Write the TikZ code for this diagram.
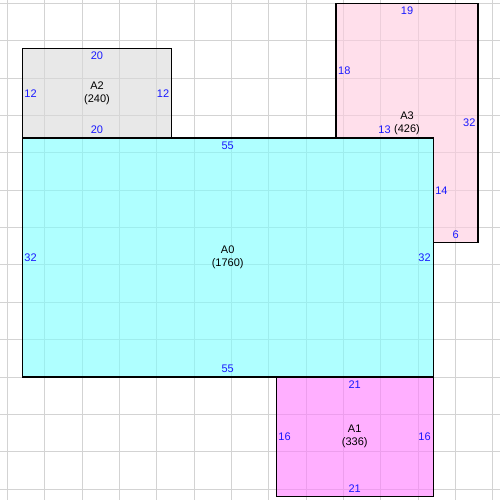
\documentclass[tikz,border=0pt]{standalone}
\usepackage{fontspec}
\setmainfont{Liberation Sans}
\definecolor{labblue}{RGB}{25,25,255}
\definecolor{gridgray}{RGB}{211,211,211}
\definecolor{cA0}{RGB}{123,255,255}
\definecolor{cA1}{RGB}{255,123,255}
\definecolor{cA2}{RGB}{217,217,217}
\definecolor{cA3}{RGB}{255,203,223}
\begin{document}
\begin{tikzpicture}[x=7.47pt,y=-7.47pt,
  gridline/.style={draw=gridgray, line width=1pt},
  area/.style={draw=black, line width=1.1pt, fill opacity=0.6, line join=miter},
  lab/.style={text=labblue, font=\fontsize{11}{12}\selectfont, inner sep=0pt},
  tl/.style={lab, anchor=north, yshift=-3.4pt},
  bl/.style={lab, anchor=south, yshift=3.8pt},
  ll/.style={lab, anchor=west, xshift=2pt},
  rl/.style={lab, anchor=east, xshift=-2.3pt},
  cl/.style={text=black, font=\fontsize{11}{13}\selectfont, align=center, inner sep=0pt}]
\useasboundingbox (-2.985,-18.474) rectangle (63.949,48.46);
\fill[white] (-2.985,-18.474) rectangle (63.949,48.46);
% grid
\foreach \i in {-2,3,...,63} \draw[gridline] (\i,-18.474) -- (\i,48.46);
\foreach \j in {-18,-13,...,47} \draw[gridline] (-2.985,\j) -- (63.949,\j);
% areas
\draw[area, fill=cA2] (0,-12) rectangle (20,0);
\draw[area, fill=cA3] (42,-18) -- (61,-18) -- (61,14) -- (55,14) -- (55,0) -- (42,0) -- cycle;
\draw[area, fill=cA1] (34,32) rectangle (55,48);
\draw[area, fill=cA0] (0,0) rectangle (55,32);
% A2 labels
\node[tl] (a2t) at (10,-12) {20};
\node[bl] (a2b) at (10,0) {20};
\node[ll] (a2l) at (0,-6) {12};
\node[rl] (a2r) at (20,-6) {12};
\node[cl] (a2c) at (10,-6) {A2\\(240)};
% A3 labels
\node[tl] (a3t) at (51.5,-18) {19};
\node[ll] (a3l) at (42,-9) {18};
\node[rl] (a3r) at (61,-2) {32};
\node[bl] (a3b) at (48.5,0) {13};
\node[ll] (a3m) at (55,7) {14};
\node[bl] (a3s) at (58,14) {6};
\node[cl] (a3c) at (51.5,-2) {A3\\(426)};
% A0 labels
\node[tl] (a0t) at (27.5,0) {55};
\node[bl] (a0b) at (27.5,32) {55};
\node[ll] (a0l) at (0,16) {32};
\node[rl] (a0r) at (55,16) {32};
\node[cl] (a0c) at (27.5,16) {A0\\(1760)};
% A1 labels
\node[tl] (a1t) at (44.5,32) {21};
\node[bl] (a1b) at (44.5,48) {21};
\node[ll] (a1l) at (34,40) {16};
\node[rl] (a1r) at (55,40) {16};
\node[cl] (a1c) at (44.5,40) {A1\\(336)};
\end{tikzpicture}
\end{document}
